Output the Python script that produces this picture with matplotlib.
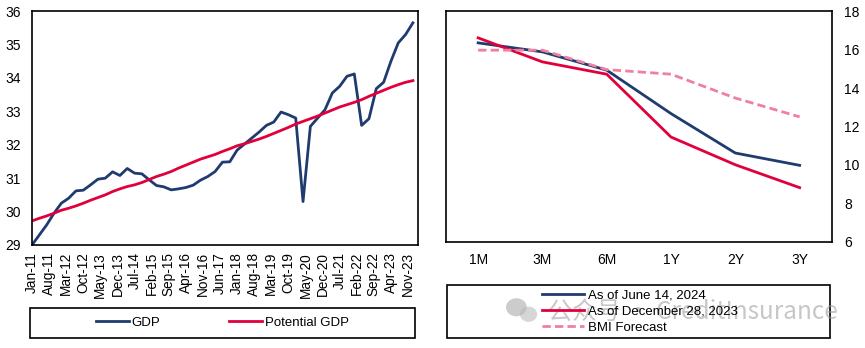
import numpy as np
import matplotlib
matplotlib.use("Agg")
from matplotlib import pyplot as plt
from matplotlib.patches import Rectangle, Ellipse

plt.rcParams['font.family'] = ['Liberation Sans', 'DejaVu Sans']

# Left panel: quarterly values, Jan-11 onwards (month index step 3)
gdp = [29.0, 29.3, 29.6, 29.95, 30.25, 30.4, 30.62, 30.64, 30.8, 30.97,
       31.0, 31.19, 31.08, 31.29, 31.15, 31.13, 30.95, 30.78, 30.74, 30.65,
       30.68, 30.72, 30.79, 30.94, 31.05, 31.2, 31.48, 31.49, 31.84, 32.02,
       32.2, 32.38, 32.58, 32.68, 32.98, 32.9, 32.8, 30.3, 32.55, 32.8,
       33.05, 33.55, 33.75, 34.05, 34.12, 32.58, 32.78, 33.68, 33.87, 34.5,
       35.05, 35.3, 35.65]
potential_gdp = [29.72, 29.8, 29.87, 29.95, 30.04, 30.1, 30.17, 30.25, 30.34, 30.42,
                 30.5, 30.6, 30.68, 30.75, 30.8, 30.87, 30.96, 31.05, 31.12, 31.2,
                 31.3, 31.39, 31.48, 31.57, 31.64, 31.71, 31.8, 31.88, 31.97, 32.03,
                 32.1, 32.17, 32.25, 32.34, 32.43, 32.52, 32.62, 32.7, 32.78, 32.86,
                 32.95, 33.04, 33.13, 33.2, 33.27, 33.35, 33.45, 33.54, 33.63, 33.72,
                 33.8, 33.87, 33.92]
month_labels = ['Jan-11', 'Aug-11', 'Mar-12', 'Oct-12', 'May-13', 'Dec-13', 'Jul-14',
                'Feb-15', 'Sep-15', 'Apr-16', 'Nov-16', 'Jun-17', 'Jan-18', 'Aug-18',
                'Mar-19', 'Oct-19', 'May-20', 'Dec-20', 'Jul-21', 'Feb-22', 'Sep-22',
                'Apr-23', 'Nov-23']

# Right panel
tenors = ['1M', '3M', '6M', '1Y', '2Y', '3Y']
june_2024 = [16.35, 15.88, 14.93, 12.67, 10.62, 9.98]
dec_2023 = [16.61, 15.36, 14.72, 11.45, 10.01, 8.82]
bmi_forecast = [15.97, 15.97, 14.96, 14.72, 13.48, 12.5]

navy = '#1f3b6f'
red = '#e0003c'
pink = '#f07fa0'

fig = plt.figure(figsize=(8.65, 3.48), dpi=100)

# ---- left chart
ax1 = fig.add_axes([0.037, 0.296, 0.446, 0.672])
months = np.arange(len(gdp)) * 3
ax1.plot(months, gdp, color=navy, lw=2.0, label='GDP')
ax1.plot(months, potential_gdp, color=red, lw=2.0, label='Potential GDP')
ax1.set_xlim(0, 158)
ax1.set_ylim(29, 36)
ax1.set_yticks(range(29, 37))
ax1.set_xticks(np.arange(len(month_labels)) * 7)
ax1.set_xticklabels(month_labels, rotation=90, fontsize=9.8)
ax1.tick_params(axis='y', labelsize=10, length=0, pad=8)
ax1.tick_params(axis='x', length=0, pad=5)
for s in ax1.spines.values():
    s.set_linewidth(1.2)

fig.patches.append(Rectangle((0.0347, 0.0287), 0.445, 0.0863, transform=fig.transFigure,
                             fill=False, edgecolor='black', lw=1.2))
h, l = ax1.get_legend_handles_labels()
fig.legend(h, l, loc='center', bbox_to_anchor=(0.257, 0.072), ncol=2, frameon=False,
           fontsize=9.5, handlelength=2.5, handletextpad=0.2, columnspacing=5.2)

# ---- right chart
ax2 = fig.add_axes([0.5156, 0.305, 0.446, 0.663])
x = np.arange(len(tenors))
ax2.plot(x, june_2024, color=navy, lw=2.0, label='As of June 14, 2024')
ax2.plot(x, dec_2023, color=red, lw=2.0, label='As of December 28, 2023')
ax2.plot(x, bmi_forecast, color=pink, lw=2.0, ls=(0, (3, 1.5)), label='BMI Forecast')
ax2.set_xlim(-0.5, 5.5)
ax2.set_ylim(6, 18)
ax2.set_yticks(range(6, 19, 2))
ax2.set_xticks(x)
ax2.set_xticklabels(tenors, fontsize=10)
ax2.yaxis.tick_right()
ax2.tick_params(axis='y', labelsize=10, length=0, pad=9)
ax2.tick_params(axis='x', length=0, pad=8)
for s in ax2.spines.values():
    s.set_linewidth(1.2)

fig.patches.append(Rectangle((0.5168, 0.0287), 0.4428, 0.152, transform=fig.transFigure,
                             fill=False, edgecolor='black', lw=1.2))
h2, l2 = ax2.get_legend_handles_labels()
fig.legend(h2, l2, loc='center', bbox_to_anchor=(0.740, 0.105), ncol=1, frameon=False,
           fontsize=9.5, handlelength=3.2, handletextpad=0.3, labelspacing=0.3)

# watermark (WeChat style)
fig.patches.append(Ellipse((0.597, 0.117), 0.024, 0.052, transform=fig.transFigure,
                           color='#aaaaaa', alpha=0.6, lw=0))
fig.patches.append(Ellipse((0.611, 0.097), 0.020, 0.044, transform=fig.transFigure,
                           color='#bbbbbb', alpha=0.6, lw=0))
fig.text(0.633, 0.103, '公众号 · CreditInsurance', fontsize=17.5, color='#999999', alpha=0.55,
         family=['Noto Sans CJK SC', 'DejaVu Sans'], va='center', ha='left')

fig.savefig('out.png', dpi=100)
